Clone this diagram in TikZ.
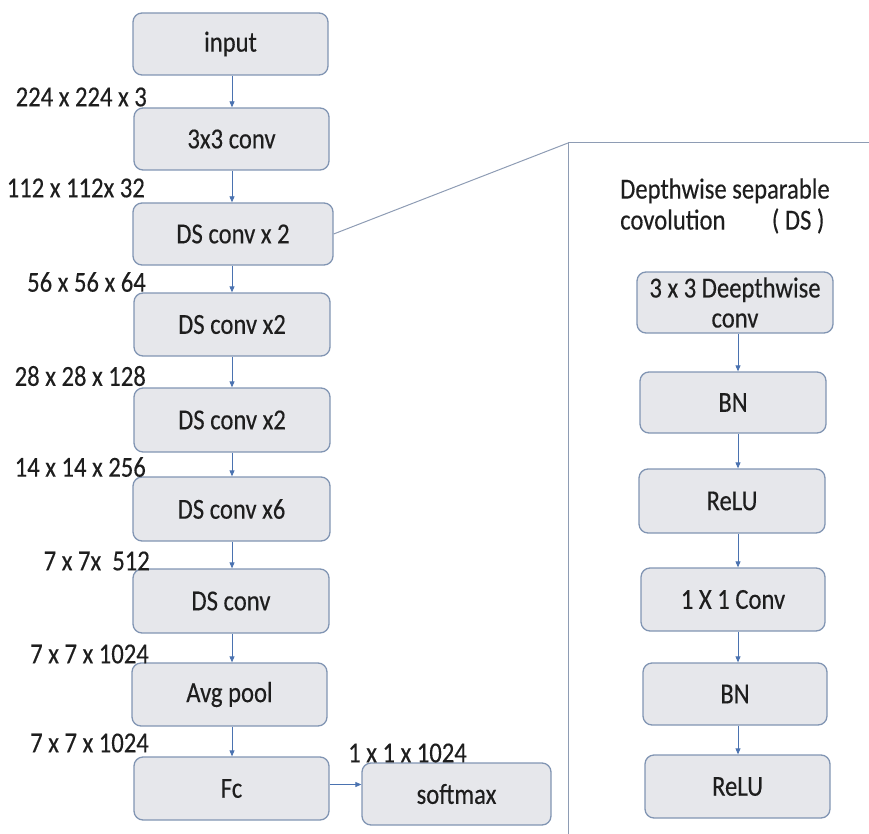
\documentclass[tikz,border=0pt]{standalone}
\usepackage{fontspec}
\setmainfont[FakeStretch=0.85,FakeBold=0.3]{Carlito}
\usetikzlibrary{arrows.meta}
\definecolor{boxfill}{HTML}{E6E7EB}
\definecolor{boxline}{HTML}{8195B3}
\definecolor{arrowcol}{HTML}{4A72B0}
\definecolor{panelline}{HTML}{8E9CB4}
\definecolor{txt}{HTML}{1E1E1E}
\tikzset{
  box/.style={draw=boxline, fill=boxfill, line width=1.3pt, rounded corners=9pt,
    inner sep=0pt, text=txt, font=\fontsize{29}{30}\selectfont, align=center},
  dimlabel/.style={inner sep=0pt, text=txt, font=\fontsize{29}{31}\selectfont},
  flow/.style={draw=arrowcol, line width=0.8pt, -{Triangle[length=6pt,width=5pt]}},
  panel/.style={draw=panelline, line width=1pt}
}
\newcommand{\bx}[6]{%
  \node[box, minimum width=#4-#2, minimum height=#5-#3] (#1) at ({(#2+#4)/2},{(#3+#5)/2}) {#6};}
\begin{document}
\begin{tikzpicture}[x=1pt,y=-1pt]
\useasboundingbox (0,0) rectangle (869,834);
% left column
\bx{inp}{133}{13}{328}{75}{input}
\bx{cthree}{134}{108}{329}{170}{3x3 conv}
\bx{dsa}{133}{203}{333}{265}{DS conv x 2}
\bx{dsb}{134}{293}{330}{356}{DS conv x2}
\bx{dsc}{134}{388}{330}{452}{DS conv x2}
\bx{dsd}{133}{477}{330}{541}{DS conv x6}
\bx{dse}{133}{569}{329}{633}{DS conv}
\bx{avg}{132}{663}{327}{726}{Avg pool}
\bx{fc}{134}{757}{329}{820}{Fc}
\bx{soft}{362}{763}{551}{825}{softmax}
% left arrows
\coordinate (lx) at (232,0);
\draw[flow] (inp.south -| lx) -- (cthree.north -| lx);
\draw[flow] (cthree.south -| lx) -- (dsa.north -| lx);
\draw[flow] (dsa.south -| lx) -- (dsb.north -| lx);
\draw[flow] (dsb.south -| lx) -- (dsc.north -| lx);
\draw[flow] (dsc.south -| lx) -- (dsd.north -| lx);
\draw[flow] (dsd.south -| lx) -- (dse.north -| lx);
\draw[flow] (dse.south -| lx) -- (avg.north -| lx);
\draw[flow] (avg.south -| lx) -- (fc.north -| lx);
\draw[flow] (fc.east) ++(0,-4) coordinate (fcout) -- (fcout -| soft.west);
% dimension labels
\node[dimlabel, anchor=east] (l1) at (147,97) {224 x 224 x 3};
\node[dimlabel, anchor=east] (l2) at (145,188) {112 x 112x 32};
\node[dimlabel, anchor=east] (l3) at (146,282) {56 x 56 x 64};
\node[dimlabel, anchor=east] (l4) at (146,376) {28 x 28 x 128};
\node[dimlabel, anchor=east] (l5) at (146,467) {14 x 14 x 256};
\node[dimlabel, anchor=east] (l6) at (150,561) {7 x 7x\ \ 512};
\node[dimlabel, anchor=east] (l7) at (149,654) {7 x 7 x 1024};
\node[dimlabel, anchor=east] (l8) at (149,743) {7 x 7 x 1024};
\node[dimlabel, anchor=west] (l9) at (348,753) {1 x 1 x 1024};
% right panel
\coordinate (pc) at (568,143);
\coordinate (pb) at (568,834);
\coordinate (pr) at (869,143);
\draw[panel] (pb) -- (pc) -- (pr);
\draw[panel] (dsa.east) -- (pc);
\node[dimlabel, anchor=west, align=left] (title) at (620,206) {Depthwise separable\\covolution\hspace{1.6em}( DS )};
\bx{ra}{637}{272}{833}{333}{3 x 3 Deepthwise\\conv}
\bx{rb}{640}{372}{826}{433}{BN}
\bx{rc}{639}{469}{825}{533}{ReLU}
\bx{rd}{641}{568}{825}{631}{1 X 1 Conv}
\bx{re}{643}{663}{827}{725}{BN}
\bx{rf}{645}{755}{830}{818}{ReLU}
\coordinate (rx) at (738,0);
\draw[flow] (ra.south -| rx) -- (rb.north -| rx);
\draw[flow] (rb.south -| rx) -- (rc.north -| rx);
\draw[flow] (rc.south -| rx) -- (rd.north -| rx);
\draw[flow] (rd.south -| rx) -- (re.north -| rx);
\draw[flow] (re.south -| rx) -- (rf.north -| rx);
\end{tikzpicture}
\end{document}
